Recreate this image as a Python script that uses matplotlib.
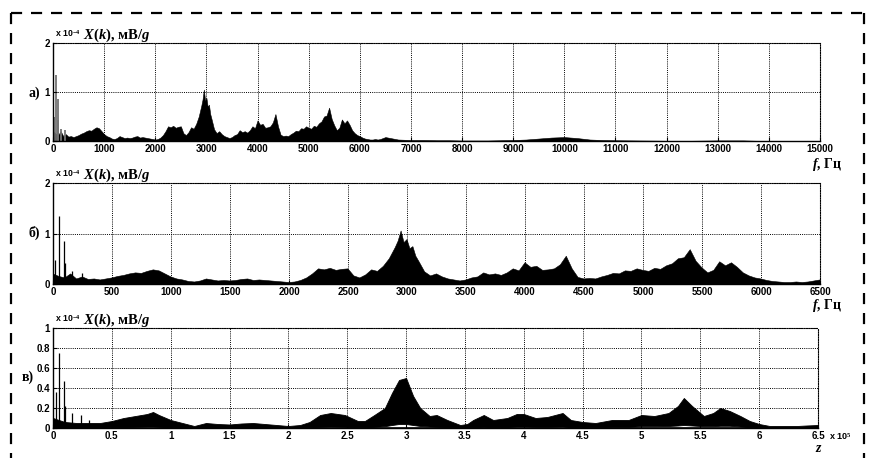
import matplotlib
matplotlib.use("Agg")
import matplotlib.pyplot as plt
from matplotlib.lines import Line2D

plt.rcParams['font.family'] = ['Liberation Sans', 'DejaVu Sans']
plt.rcParams['mathtext.fontset'] = 'custom'
plt.rcParams['mathtext.rm'] = 'Liberation Serif:bold'
plt.rcParams['mathtext.it'] = 'Liberation Serif:italic:bold'

# spectrum envelope, X(k) in units of 1e-4 mV/g, frequency in Hz
freq = [0, 50, 100, 150, 200, 250, 300, 350, 400, 450, 500, 550, 600, 650, 700, 750,
        800, 850, 900, 950, 1000, 1050, 1100, 1150, 1200, 1250, 1300, 1350, 1400, 1450,
        1500, 1550, 1600, 1650, 1700, 1750, 1800, 1850, 1900, 1950, 2000, 2050, 2100,
        2150, 2200, 2250, 2300, 2350, 2400, 2450, 2500, 2550, 2600, 2650, 2700, 2750,
        2800, 2850, 2900, 2925, 2950, 2975, 3000, 3025, 3050, 3075, 3100, 3150, 3200,
        3250, 3300, 3350, 3400,
        3450, 3500, 3550, 3600, 3650, 3700, 3750, 3800, 3850, 3900, 3950, 4000, 4050,
        4100, 4150, 4200, 4250, 4300, 4350, 4400, 4450, 4500, 4550, 4600, 4650, 4700,
        4750, 4800, 4850, 4900, 4950, 5000, 5050, 5100, 5150, 5200, 5250, 5300, 5350,
        5400, 5450, 5500, 5550, 5600, 5650, 5700, 5750, 5800, 5850, 5900, 5950, 6000,
        6050, 6100, 6150, 6200, 6250, 6300, 6350, 6400, 6450, 6500, 6750, 7000, 7250,
        7500, 7750, 8000, 8250, 8500, 8750, 9000, 9250, 9500, 9750, 10000, 10250, 10500,
        10750, 11000, 11500, 12000, 12500, 13000, 13500, 13750, 14000, 15000]
amp = [0.2, 0.15, 0.12, 0.2, 0.1, 0.14, 0.09, 0.1, 0.08, 0.1, 0.12, 0.15, 0.17, 0.2, 0.22, 0.21,
       0.25, 0.28, 0.26, 0.2, 0.14, 0.1, 0.08, 0.05, 0.04, 0.06, 0.1, 0.08, 0.06, 0.07,
       0.06, 0.07, 0.09, 0.1, 0.07, 0.08, 0.07, 0.06, 0.05, 0.04, 0.03, 0.04, 0.07,
       0.12, 0.2, 0.3, 0.28, 0.31, 0.27, 0.29, 0.3, 0.16, 0.12, 0.18, 0.28, 0.25,
       0.35, 0.5, 0.72, 0.85, 1.05, 0.82, 0.88, 0.7, 0.74, 0.55, 0.45, 0.24, 0.16,
       0.2, 0.14, 0.1, 0.08,
       0.06, 0.08, 0.12, 0.14, 0.22, 0.18, 0.2, 0.17, 0.22, 0.3, 0.26, 0.42, 0.33,
       0.35, 0.27, 0.28, 0.3, 0.38, 0.55, 0.3, 0.13, 0.1, 0.11, 0.1, 0.14, 0.17,
       0.21, 0.2, 0.26, 0.25, 0.3, 0.27, 0.25, 0.31, 0.29, 0.36, 0.4, 0.5, 0.52,
       0.68, 0.45, 0.32, 0.22, 0.27, 0.44, 0.36, 0.42, 0.33, 0.22, 0.16, 0.12, 0.1,
       0.07, 0.05, 0.04, 0.03, 0.03, 0.04, 0.03, 0.04, 0.06, 0.08, 0.03, 0.02, 0.02,
       0.015, 0.015, 0.01, 0.01, 0.01, 0.015, 0.02, 0.03, 0.05, 0.07, 0.08, 0.06, 0.03,
       0.02, 0.015, 0.01, 0.005, 0.005, 0.012, 0.012, 0.005, 0.003, 0.002]

# low-frequency spikes
spike_f = [17, 50, 93, 105, 158, 243]
spike_a = [0.48, 1.35, 0.85, 0.42, 0.25, 0.22]

# panel c: z in units of 1e5, band between lower and upper envelope
z = [0.0, 0.1, 0.2, 0.3, 0.4, 0.5, 0.6, 0.7, 0.8, 0.85, 0.9, 1.0, 1.1, 1.2, 1.3,
     1.4, 1.5, 1.6, 1.7, 1.8, 1.9, 2.0, 2.1, 2.18, 2.27, 2.36, 2.48, 2.59, 2.65, 2.73,
     2.82, 2.88, 2.94, 3.0, 3.06, 3.12, 3.2, 3.26, 3.35, 3.46, 3.52, 3.57, 3.66, 3.74,
     3.86, 3.94, 4.0, 4.1, 4.2, 4.33, 4.4, 4.5, 4.61, 4.75, 4.89, 5.0, 5.11, 5.23,
     5.31, 5.36, 5.43, 5.53, 5.61, 5.67, 5.75, 5.84, 5.92, 6.0, 6.09, 6.2, 6.32,
     6.4, 6.5]
z_up = [0.1, 0.06, 0.05, 0.05, 0.05, 0.07, 0.1, 0.12, 0.14, 0.16, 0.13, 0.08, 0.05,
        0.02, 0.05, 0.04, 0.035, 0.045, 0.05, 0.04, 0.03, 0.02, 0.03, 0.06, 0.13,
        0.15, 0.13, 0.07, 0.07, 0.13, 0.2, 0.35, 0.48, 0.5, 0.32, 0.2, 0.12, 0.13,
        0.08, 0.03, 0.04, 0.08, 0.13, 0.08, 0.1, 0.14, 0.14, 0.1, 0.11, 0.15, 0.08,
        0.06, 0.05, 0.08, 0.08, 0.13, 0.12, 0.15, 0.22, 0.3, 0.22, 0.12, 0.15, 0.2,
        0.17, 0.12, 0.07, 0.04, 0.02, 0.02, 0.02, 0.025, 0.03]
z_lo = [0.0, 0.005, 0.005, 0.005, 0.005, 0.008, 0.01, 0.012, 0.015, 0.015, 0.012, 0.008,
        0.005, 0.003, 0.005, 0.005, 0.005, 0.005, 0.005, 0.005, 0.003, 0.003, 0.005,
        0.008, 0.012, 0.015, 0.012, 0.008, 0.008, 0.012, 0.018, 0.03, 0.04, 0.04, 0.03,
        0.02, 0.015, 0.012, 0.01, 0.005, 0.005, 0.008, 0.012, 0.008, 0.01, 0.015, 0.015,
        0.012, 0.012, 0.015, 0.008, 0.008, 0.008, 0.012, 0.012, 0.018, 0.018, 0.02,
        0.025, 0.03, 0.025, 0.018, 0.018, 0.022, 0.022, 0.015, 0.008, 0.005, 0.003,
        0.003, 0.003, 0.003, 0.003]
zspike_x = [0.023, 0.05, 0.093, 0.105, 0.16, 0.24, 0.31]
zspike_a = [0.36, 0.75, 0.47, 0.22, 0.15, 0.13, 0.08]

fig = plt.figure(figsize=(8.72, 4.58), dpi=100)
W, H = 872, 458

def px_axes(l, t, r, b):
    return fig.add_axes([l / W, 1 - b / H, (r - l) / W, (b - t) / H])

def style(ax, xt, xl, yt, yl, xmax, ymax):
    ax.set_xlim(0, xmax)
    ax.set_ylim(0, ymax)
    ax.set_xticks(xt)
    ax.set_xticklabels(xl)
    ax.set_yticks(yt)
    ax.set_yticklabels(yl)
    ax.grid(True, color='k', ls=(0, (1, 1.2)), lw=0.7)
    ax.tick_params(direction='in', length=3, width=0.8, labelsize=7, pad=2)
    for lab in ax.get_xticklabels() + ax.get_yticklabels():
        lab.set_fontweight('bold')
    for s in ('top', 'right'):
        ax.spines[s].set_linestyle((0, (1, 1.2)))
        ax.spines[s].set_linewidth(0.8)
    for s in ('left', 'bottom'):
        ax.spines[s].set_linewidth(1.0)
    ax.set_axisbelow(False)

def head(ax, top_px):
    fig.text(55 / W, 1 - (top_px - 6) / H, r"x 10$^{-4}$", fontsize=6.3,
             fontweight='bold', va='baseline', ha='left')
    fig.text(83 / W, 1 - (top_px - 4) / H, r"$X(k)$, мВ/$g$", fontsize=10.5,
             family='Liberation Serif', fontweight='bold', va='baseline', ha='left')

# a)
ax1 = px_axes(53, 43, 820, 141)
ax1.fill_between(freq, 0, amp, color='k', lw=0.4)
ax1.vlines(spike_f, 0, spike_a, color='0.45', lw=1.3)
style(ax1, list(range(0, 15001, 1000)), [str(v) for v in range(0, 15001, 1000)],
      [0, 1, 2], ['0', '1', '2'], 15000, 2)
head(ax1, 43)
fig.text(812 / W, 1 - 168 / H, r"$f$, Гц", fontsize=10, family='Liberation Serif',
         fontweight='bold', va='baseline', ha='left')
fig.text(28 / W, 1 - 97 / H, "а)", fontsize=10, family='Liberation Serif',
         fontweight='bold', va='baseline', ha='left')

# b)
ax2 = px_axes(53, 183, 820, 284)
ax2.fill_between(freq, 0, amp, color='k', lw=0.4)
ax2.vlines(spike_f, 0, spike_a, color='k', lw=0.9)
style(ax2, list(range(0, 6501, 500)), [str(v) for v in range(0, 6501, 500)],
      [0, 1, 2], ['0', '1', '2'], 6500, 2)
head(ax2, 183)
fig.text(812 / W, 1 - 309 / H, r"$f$, Гц", fontsize=10, family='Liberation Serif',
         fontweight='bold', va='baseline', ha='left')
fig.text(28 / W, 1 - 237 / H, "б)", fontsize=10, family='Liberation Serif',
         fontweight='bold', va='baseline', ha='left')

# c)
ax3 = px_axes(53, 328, 818, 428)
ax3.fill_between(z, z_lo, z_up, color='k', lw=0.6)
ax3.plot([0, 6.5], [0.002, 0.002], color='k', lw=1.2)
ax3.vlines(zspike_x, 0, zspike_a, color='k', lw=0.9)
zt = [i * 0.5 for i in range(14)]
style(ax3, zt, ['%g' % v for v in zt], [0, 0.2, 0.4, 0.6, 0.8, 1.0],
      ['0', '0.2', '0.4', '0.6', '0.8', '1'], 6.5, 1)
head(ax3, 328)
fig.text(829 / W, 1 - 440 / H, r"x 10$^{5}$", fontsize=6.5, fontweight='bold',
         va='baseline', ha='left')
fig.text(815 / W, 1 - 452 / H, r"$z$", fontsize=10, family='Liberation Serif',
         va='baseline', ha='left')
fig.text(22 / W, 1 - 381 / H, "в)", fontsize=10, family='Liberation Serif',
         fontweight='bold', va='baseline', ha='left')

# dashed frame
dash = dict(color='k', lw=1.6, ls=(0, (5, 4)), transform=fig.transFigure)
fig.add_artist(Line2D([11 / W, 864 / W], [1 - 13 / H, 1 - 13 / H], **dash))
fig.add_artist(Line2D([11 / W, 11 / W], [1 - 13 / H, 0], **dash))
fig.add_artist(Line2D([864 / W, 864 / W], [1 - 13 / H, 0], **dash))

fig.savefig("out.png", dpi=100)
